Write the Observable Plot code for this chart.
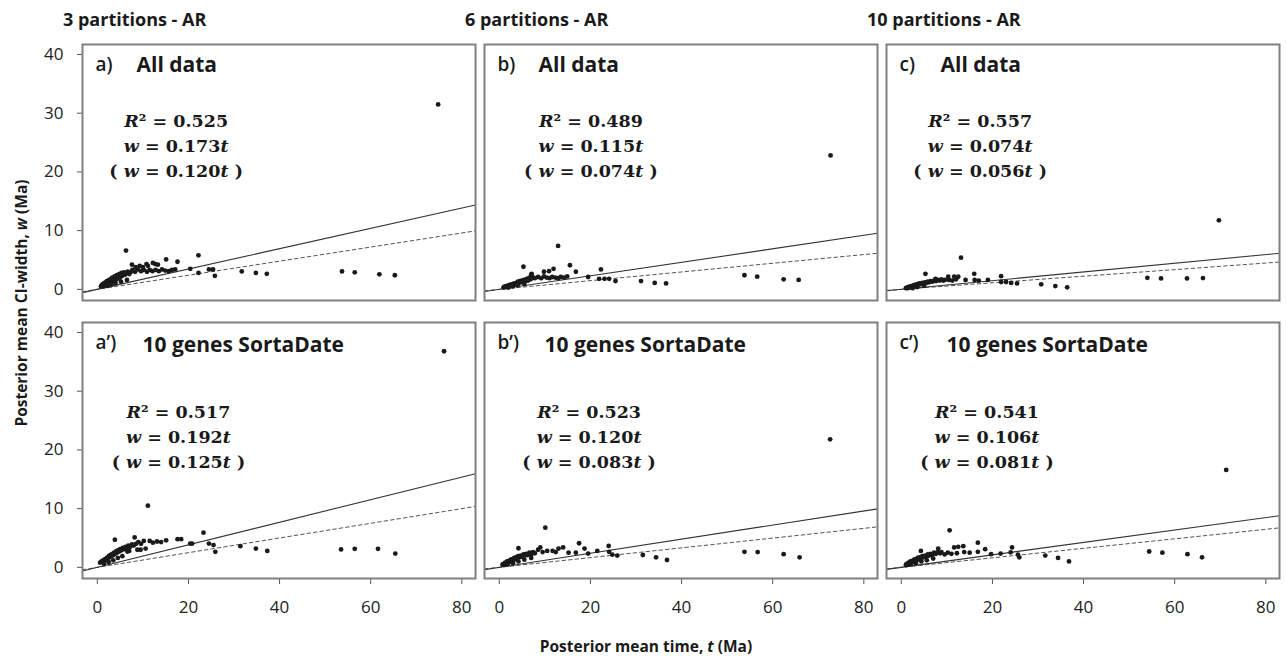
<!DOCTYPE html>
<html><head><meta charset="utf-8">
<script src="https://cdn.jsdelivr.net/npm/d3@7"></script>
<script src="https://cdn.jsdelivr.net/npm/@observablehq/plot@0.6"></script>
<style>
body{margin:0;background:#fff;}
#chart{position:absolute;left:0;top:0;}
</style></head><body><div id="chart"></div>
<script>
// ---------- data ----------
const partitions = ["3 partitions - AR", "6 partitions - AR", "10 partitions - AR"];
const datasets = ["All data", "10 genes SortaDate"];
const panelIds = ["a", "b", "c", "a’", "b’", "c’"];
const r2Values = ["0.525", "0.489", "0.557", "0.517", "0.523", "0.541"];
const slopeSolid = [0.173, 0.115, 0.074, 0.192, 0.120, 0.106];
const slopeDashed = [0.120, 0.074, 0.056, 0.125, 0.083, 0.081];
const xTicks = [0, 20, 40, 60, 80];
const yTicks = [0, 10, 20, 30, 40];

// [t, w] pairs per panel
const pointsA = [
[0.8,0.5],[1.0,0.7],[1.2,0.9],[1.4,0.6],[1.5,1.0],[1.7,0.8],[1.8,1.2],[2.0,1.0],[2.1,1.4],[2.3,0.9],[2.4,1.2],[2.6,1.6],[2.7,1.3],[2.9,1.1],[3.0,1.8],[3.2,1.5],[3.3,2.0],[3.5,1.4],[3.6,1.8],[3.8,2.2],[3.9,1.6],[4.1,2.0],[4.3,2.4],[4.4,1.8],[4.6,2.2],[4.8,2.6],[5.0,2.0],[5.1,2.4],[5.3,2.8],[5.5,2.3],[5.7,2.6],[5.9,2.9],[6.1,2.5],[6.4,2.8],[6.7,3.0],[7.0,2.6],[7.3,2.9],
[2.2,0.6],[3.1,0.8],[4.0,1.1],[5.2,1.3],[6.5,1.6],
[7.7,3.3],[8.3,3.0],[8.9,3.4],[9.6,3.1],[10.2,3.3],[10.9,3.0],[11.5,3.3],[12.1,3.1],[12.8,3.3],[13.5,3.1],[14.2,3.4],[14.9,3.2],[15.7,3.1],[16.4,3.3],[17.1,3.4],
[6.3,6.6],[7.6,4.2],[8.4,3.8],[9.3,4.0],[10.0,3.8],[10.8,4.3],[11.1,4.0],[12.2,4.5],[12.7,4.3],[13.3,4.2],[15.1,5.1],[17.6,4.7],[20.4,3.5],[22.2,5.8],[22.2,2.8],[24.5,3.4],[25.4,3.4],[25.8,2.3],[31.7,3.05],[34.8,2.8],[37.2,2.65],[53.7,3.05],[56.5,2.9],[61.9,2.55],[65.3,2.4],[74.8,31.5]
];
const pointsB = [
[0.9,0.3],[1.1,0.4],[1.3,0.5],[1.5,0.4],[1.7,0.6],[1.9,0.5],[2.1,0.7],[2.3,0.6],[2.5,0.8],[2.7,0.7],[2.9,0.9],[3.1,0.8],[3.3,1.0],[3.5,0.9],[3.7,1.1],[3.9,1.0],[4.1,1.3],[4.3,1.1],[4.5,1.4],[4.7,1.2],[4.9,1.5],[5.1,1.3],[5.4,1.6],[5.7,1.4],[6.0,1.8],[6.3,1.5],[6.6,2.0],[6.9,1.7],[7.0,2.5],[7.3,2.1],
[2.0,0.3],[3.0,0.5],[4.0,0.7],[5.5,0.9],
[7.8,1.9],[8.5,2.1],[9.2,1.9],[9.8,2.2],[10.4,2.0],[11.0,1.9],[11.6,2.1],[12.3,2.0],[12.9,1.9],[13.5,2.1],[14.2,2.0],[14.9,2.2],
[5.3,3.85],[7.1,2.65],[9.8,3.0],[10.9,3.1],[11.9,3.5],[12.9,7.4],[15.5,4.1],[16.8,3.0],[19.5,2.1],[21.9,1.8],[22.3,3.4],[23.1,1.8],[24.1,1.8],[25.5,1.4],[31.1,1.4],[34.1,1.1],[36.6,1.0],[53.8,2.4],[56.6,2.15],[62.4,1.7],[65.7,1.6],[72.7,22.8]
];
const pointsC = [
[1.0,0.2],[1.2,0.3],[1.4,0.2],[1.6,0.4],[1.8,0.3],[2.0,0.5],[2.2,0.4],[2.4,0.6],[2.6,0.5],[2.8,0.7],[3.0,0.6],[3.2,0.8],[3.4,0.7],[3.6,0.9],[3.8,0.8],[4.0,1.0],[4.3,0.9],[4.6,1.1],[4.9,1.0],[5.2,1.2],[5.5,1.1],[5.8,1.3],[6.1,1.2],[6.4,1.4],[6.8,1.3],[7.2,1.5],[7.6,1.4],[8.0,1.6],[8.4,1.5],[8.8,1.7],[9.2,1.5],[9.6,1.6],
[2.5,0.2],[3.5,0.4],[5.0,0.6],
[5.3,2.65],[7.5,1.8],[10.3,2.15],[11.6,2.15],[12.5,2.15],[10.5,1.6],[11.2,1.5],[12.0,1.7],[13.1,5.4],[14.1,1.6],[16.0,2.65],[16.1,1.6],[17.0,1.5],[19.0,1.6],[21.9,2.25],[21.9,1.25],[23.0,1.25],[24.1,1.1],[25.4,1.0],[30.7,0.85],[33.8,0.56],[36.4,0.34],[54.0,1.97],[57.0,1.86],[62.7,1.86],[66.2,1.92],[69.7,11.75]
];
const pointsA2 = [
[0.6,0.8],[0.9,1.0],[1.1,0.9],[1.3,1.2],[1.5,1.1],[1.7,1.4],[1.9,1.3],[2.1,1.6],[2.3,1.5],[2.5,1.9],[2.7,1.7],[2.9,2.1],[3.1,1.9],[3.3,2.3],[3.5,2.1],[3.7,2.5],[3.9,2.3],[4.1,2.7],[4.3,2.5],[4.5,2.9],[4.8,2.7],[5.0,3.1],[5.3,2.9],[5.6,3.3],[5.9,3.1],[6.2,3.5],[6.5,3.3],[6.8,3.7],[7.2,3.5],[7.6,3.9],[8.0,3.7],[8.5,4.0],
[1.5,0.6],[2.5,0.9],[3.5,1.2],[4.5,1.6],[5.5,1.9],[7.0,2.8],[8.8,3.0],[6.6,2.7],[9.5,3.0],[10.6,3.2],
[3.85,4.7],[8.2,5.1],[9.0,4.3],[9.6,4.0],[10.2,4.5],[11.1,10.5],[11.5,4.5],[12.2,4.2],[13.1,4.4],[14.0,4.3],[15.1,4.6],[17.6,4.8],[18.4,4.8],[20.4,4.05],[20.8,4.05],[23.3,5.9],[24.5,4.05],[25.5,3.8],[25.9,2.65],[31.4,3.6],[34.8,3.2],[37.3,2.8],[53.5,3.05],[56.5,3.15],[61.6,3.15],[65.4,2.35],[76.1,36.8]
];
const pointsB2 = [
[0.7,0.45],[0.9,0.6],[1.1,0.5],[1.3,0.8],[1.5,0.7],[1.7,1.0],[1.9,0.8],[2.1,1.1],[2.3,0.9],[2.5,1.3],[2.7,1.1],[2.9,1.4],[3.1,1.2],[3.3,1.6],[3.5,1.4],[3.7,1.7],[3.9,1.5],[4.1,1.9],[4.4,1.7],[4.7,2.0],[5.0,1.8],[5.3,2.2],[5.6,2.0],[5.9,2.3],[6.2,2.1],[6.6,2.5],[7.0,2.2],[7.4,2.6],[7.8,2.4],
[1.8,0.5],[3.0,0.7],[4.2,1.0],[5.5,1.3],[7.0,1.6],
[4.2,3.25],[8.5,3.0],[9.0,3.4],[9.5,2.6],[10.1,6.75],[10.5,2.8],[11.7,2.8],[13.0,3.2],[14.0,3.4],[12.4,2.6],[15.2,2.5],[16.8,2.5],[17.5,4.1],[18.7,3.2],[19.5,2.35],[21.5,2.8],[24.0,3.65],[24.1,2.65],[24.8,2.15],[25.9,2.0],[31.5,2.1],[34.4,1.7],[36.8,1.25],[53.8,2.65],[56.7,2.6],[62.4,2.25],[65.9,1.7],[72.6,21.8]
];
const pointsC2 = [
[1.0,0.4],[1.2,0.6],[1.4,0.5],[1.6,0.8],[1.8,0.7],[2.0,1.0],[2.2,0.8],[2.4,1.1],[2.6,0.9],[2.8,1.3],[3.0,1.1],[3.2,1.4],[3.4,1.2],[3.6,1.6],[3.8,1.4],[4.0,1.7],[4.3,1.5],[4.6,1.9],[4.9,1.7],[5.2,2.0],[5.5,1.8],[5.8,2.2],[6.1,2.0],[6.4,2.3],[6.8,2.1],[7.2,2.5],[7.6,2.3],[8.0,2.6],[8.5,2.4],
[2.0,0.5],[3.2,0.7],[4.4,1.0],[5.6,1.2],[7.0,1.5],
[4.3,2.8],[8.1,3.2],[8.8,2.6],[9.5,2.2],[10.6,6.3],[10.2,2.5],[11.0,2.3],[11.6,3.4],[12.5,3.5],[13.6,3.6],[12.2,2.4],[13.8,2.6],[15.0,2.5],[16.8,4.2],[16.8,2.65],[18.4,3.1],[19.7,2.25],[21.8,2.35],[24.0,2.55],[24.3,3.4],[25.6,2.15],[25.9,1.7],[31.6,2.0],[34.4,1.6],[36.8,1.0],[54.4,2.7],[57.3,2.5],[62.8,2.25],[66.0,1.7],[71.3,16.6]
];
const pointSets = [pointsA, pointsB, pointsC, pointsA2, pointsB2, pointsC2];

// ---------- layout ----------
const X_DOMAIN = [-3.25, 83];
const Y_DOMAIN = [-1.9, 41.7];
const eqAnchorT = [17.3, 20.1, 17.3, 17.8, 19.7, 18.8];
const eqAnchorW = [28.6, 26.4];

const panels = panelIds.map((id, i) => ({
  id, i, row: Math.floor(i / 3),
  partition: partitions[i % 3], dataset: datasets[Math.floor(i / 3)],
  r2: r2Values[i], s1: slopeSolid[i], s2: slopeDashed[i]
}));
const points = panels.flatMap(p => pointSets[p.i].map(([t, w]) => ({t, w, partition: p.partition, dataset: p.dataset})));
const solidFit = panels.flatMap(p => X_DOMAIN.map(t => ({id: p.id, t, w: p.s1 * t, partition: p.partition, dataset: p.dataset})));
const dashedFit = panels.flatMap(p => X_DOMAIN.map(t => ({id: p.id, t, w: p.s2 * t, partition: p.partition, dataset: p.dataset})));

const eqFont = {fontFamily: "DejaVu Serif", fontWeight: "bold", fontSize: 17.5, fill: "#1a1a1a"};
const eqPos = {fx: "partition", fy: "dataset", x: d => eqAnchorT[d.i], y: d => eqAnchorW[d.row], textAnchor: "middle"};

const chart = Plot.plot({
  width: 1286, height: 656,
  marginLeft: 82, marginRight: 6, marginTop: 44, marginBottom: 77,
  style: {fontFamily: "Open Sans", fontSize: "16px", color: "#222", background: "white", overflow: "visible"},
  fx: {domain: partitions, paddingInner: 0.0223, paddingOuter: 0, axis: null, label: null},
  fy: {domain: datasets, paddingInner: 0.079, paddingOuter: 0, axis: null, label: null},
  x: {domain: X_DOMAIN, label: null},
  y: {domain: Y_DOMAIN, label: null},
  marks: [
    Plot.axisX({ticks: xTicks, tickSize: 6, tickPadding: 16, fontSize: 17, label: null, stroke: "#555", fill: "#222"}),
    Plot.axisY({ticks: yTicks, tickSize: 5, tickPadding: 14, fontSize: 17, label: null, stroke: "#555", fill: "#222"}),
    Plot.line(dashedFit, {x: "t", y: "w", z: "id", fx: "partition", fy: "dataset", stroke: "#555", strokeWidth: 1, strokeDasharray: "3.5,3"}),
    Plot.line(solidFit, {x: "t", y: "w", z: "id", fx: "partition", fy: "dataset", stroke: "#333", strokeWidth: 1.1}),
    Plot.dot(points, {x: "t", y: "w", fx: "partition", fy: "dataset", r: 2.4, fill: "#1a1a1a", stroke: null}),
    Plot.text(panels, {...eqPos, ...eqFont, text: d => `R² = ${d.r2}`}),
    Plot.text(panels, {...eqPos, ...eqFont, dy: 25, text: d => `w = ${d.s1.toFixed(3)}t`}),
    Plot.text(panels, {...eqPos, ...eqFont, dy: 50, text: d => `( w = ${d.s2.toFixed(3)}t )`}),
    Plot.text(panels, {fx: "partition", fy: "dataset", frameAnchor: "top-left", text: d => d.id + ")", dx: 13, dy: 13, lineAnchor: "top", textAnchor: "start", fontSize: 19, fontWeight: 600, fill: "#1a1a1a"}),
    Plot.text(panels.filter(p => p.row === 0), {fx: "partition", fy: "dataset", frameAnchor: "top-left", text: "dataset", dx: 54, dy: 13, lineAnchor: "top", textAnchor: "start", fontSize: 21, fontWeight: "bold", fill: "#1a1a1a"}),
    Plot.text(panels.filter(p => p.row === 1), {fx: "partition", fy: "dataset", frameAnchor: "top-left", text: "dataset", dx: 60, dy: 15, lineAnchor: "top", textAnchor: "start", fontSize: 21, fontWeight: "bold", fill: "#1a1a1a"}),
    Plot.frame({stroke: "#808080", strokeWidth: 2})
  ]
});
document.getElementById("chart").appendChild(chart);

// italic variables in equations
d3.select(chart).selectAll("text").each(function() {
  const s = this.textContent;
  if (!s.includes(" = ") || this.querySelector("tspan")) return;
  const el = d3.select(this);
  el.text(null);
  const re = /([Rwt])|([^Rwt]+)/g; let m;
  while ((m = re.exec(s))) {
    const ts = el.append("tspan").text(m[0]);
    if (m[1]) ts.attr("font-style", "italic");
  }
});

const svg = d3.select(chart);
// column titles, placed from the fx scale
const fxScale = chart.scale("fx");
partitions.forEach(p => {
  svg.append("text").attr("x", fxScale.apply(p) - 19).attr("y", 20).attr("dy", "0.35em")
    .attr("text-anchor", "start").attr("font-size", 18).attr("font-weight", "bold").attr("fill", "#1a1a1a")
    .text(p);
});
// axis titles
const yt = svg.append("text").attr("transform", "translate(22,303) rotate(-90)")
  .attr("text-anchor", "middle").attr("dy", "0.35em")
  .attr("font-size", 15.5).attr("font-weight", "bold").attr("fill", "#1a1a1a");
yt.append("tspan").text("Posterior mean CI-width, ");
yt.append("tspan").attr("font-style", "italic").text("w");
yt.append("tspan").text(" (Ma)");
const xt = svg.append("text").attr("transform", "translate(646,647)")
  .attr("text-anchor", "middle").attr("dy", "0.35em")
  .attr("font-size", 15.5).attr("font-weight", "bold").attr("fill", "#1a1a1a");
xt.append("tspan").text("Posterior mean time, ");
xt.append("tspan").attr("font-style", "italic").text("t");
xt.append("tspan").text(" (Ma)");
</script></body></html>
